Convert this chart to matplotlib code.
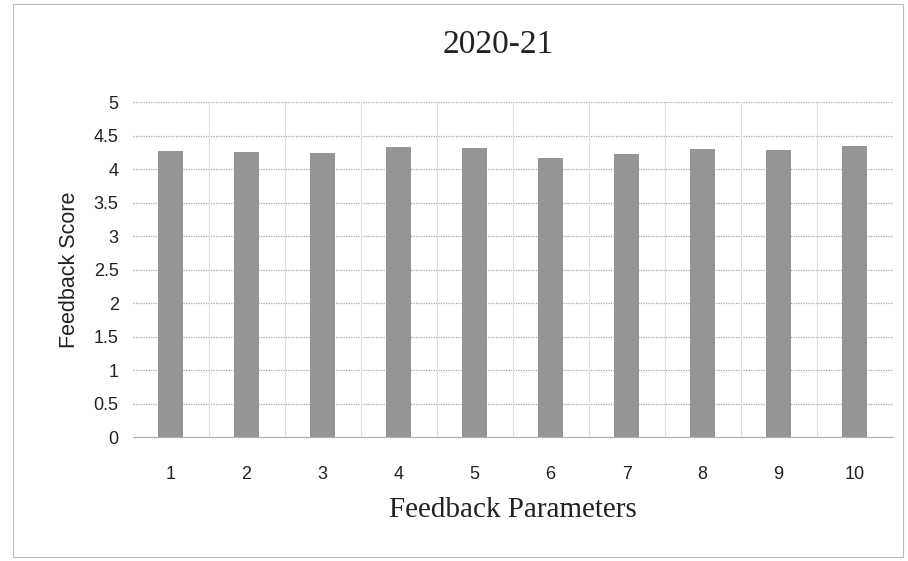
import numpy as np
import matplotlib
matplotlib.use("Agg")
import matplotlib.pyplot as plt

# 数据
params = [1, 2, 3, 4, 5, 6, 7, 8, 9, 10]
scores = [4.27, 4.25, 4.24, 4.33, 4.32, 4.16, 4.22, 4.30, 4.28, 4.35]
y_ticks = [0, 0.5, 1, 1.5, 2, 2.5, 3, 3.5, 4, 4.5, 5]

fig = plt.figure(figsize=(9.08, 5.61), dpi=100)
fig.patch.set_facecolor("white")

# 外框
fig.patches.append(plt.Rectangle((0.014, 0.008), 0.98, 0.985, transform=fig.transFigure,
                                 fill=False, edgecolor="#bdbdbd", linewidth=0.8))

ax = fig.add_axes([0.146, 0.221, 0.837, 0.597])
x = np.arange(len(params))
ax.bar(x, scores, width=0.33, color="#959595", zorder=3)

ax.set_xlim(-0.5, len(params) - 0.5)
ax.set_ylim(0, 5)
ax.set_yticks(y_ticks)
ax.set_yticklabels([f"{v:g}" for v in y_ticks], fontsize=13, family="Liberation Sans", color="#222222")
ax.set_xticks(x)
ax.set_xticklabels([str(p) for p in params], fontsize=13, family="Liberation Sans", color="#222222")
ax.tick_params(axis="x", length=0, pad=21)
ax.tick_params(axis="y", length=0, pad=10)

# 网格线: 横向虚线, 纵向在类别边界
for v in y_ticks[1:]:
    ax.axhline(v, color="#a8a8a8", linestyle=(0, (1, 1)), linewidth=0.9, zorder=1)
for b in np.arange(0.5, len(params) - 0.5, 1):
    ax.axvline(b, color="#dddddd", linewidth=0.8, zorder=1)

for s in ["top", "right", "left"]:
    ax.spines[s].set_visible(False)
ax.spines["bottom"].set_color("#b0b0b0")
ax.spines["bottom"].set_linewidth(0.9)

ax.set_ylabel("Feedback Score", fontsize=15.5, family="Liberation Sans", color="#222222", labelpad=10)
ax.set_xlabel("Feedback Parameters", fontsize=21, family="Liberation Serif", color="#222222", labelpad=10)
fig.text(0.549, 0.92, "2020-21", ha="center", va="center", fontsize=24,
         family="Liberation Serif", color="#222222")

fig.savefig("out.png", dpi=100)
